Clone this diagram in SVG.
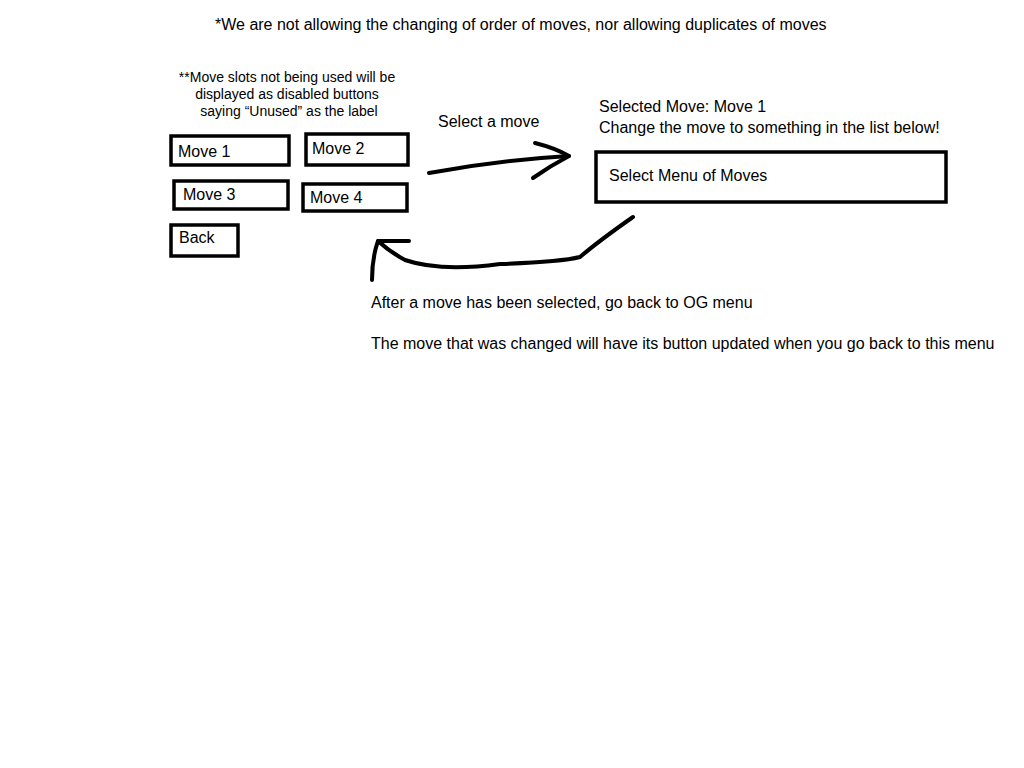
<svg xmlns="http://www.w3.org/2000/svg" width="1024" height="768" viewBox="0 0 1024 768">
<style>
text{font-family:"Liberation Sans",Arial,sans-serif;fill:#000}
.t{font-size:16px}
.s{font-size:14px}
.b{fill:#fff;stroke:#000;stroke-width:3.5}
.c{fill:none;stroke:#000;stroke-width:4;stroke-linecap:round;stroke-linejoin:round}
</style>
<rect width="1024" height="768" fill="#fff"/>
<text class="t" x="215" y="30">*We are not allowing the changing of order of moves, nor allowing duplicates of moves</text>
<g id="note">
<text class="s" text-anchor="middle" x="287" y="82">**Move slots not being used will be</text>
<text class="s" text-anchor="middle" x="287" y="99">displayed as disabled buttons</text>
<text class="s" text-anchor="middle" x="289" y="116">saying “Unused” as the label</text>
</g>
<g id="move1"><rect class="b" x="171" y="136" width="118" height="29"/><text class="t" x="178" y="157">Move 1</text></g>
<g id="move2"><rect class="b" x="306" y="134" width="102" height="31"/><text class="t" x="312" y="154">Move 2</text></g>
<g id="move3"><rect class="b" x="174" y="181" width="114" height="28"/><text class="t" x="183" y="200">Move 3</text></g>
<g id="move4"><rect class="b" x="303" y="184" width="104" height="27"/><text class="t" x="310" y="203">Move 4</text></g>
<g id="back"><rect class="b" x="171" y="225" width="67" height="31"/><text class="t" x="179" y="243">Back</text></g>
<g id="selected">
<text class="t" x="599" y="112">Selected Move: Move 1</text>
<text class="t" x="599" y="133">Change the move to something in the list below!</text>
</g>
<g id="menu"><rect class="b" x="596" y="152" width="350" height="50"/><text class="t" x="609" y="181">Select Menu of Moves</text></g>
<text class="t" x="438" y="127">Select a move</text>
<text class="t" x="371" y="308">After a move has been selected, go back to OG menu</text>
<text class="t" x="371" y="349">The move that was changed will have its button updated when you go back to this menu</text>
<g id="connectors">
<path class="c" d="M429 173 Q500 160 569 156"/>
<path class="c" d="M535 143 Q555 148 569 156 Q550 166 533 178"/>
<path class="c" d="M633 217 Q600 240 580 257 Q560 262 500 264 Q440 272 405 260 Q390 252 378 241"/>
<path class="c" d="M372 280 Q372 258 378 241 Q395 241 409 241"/>
</g>
</svg>
